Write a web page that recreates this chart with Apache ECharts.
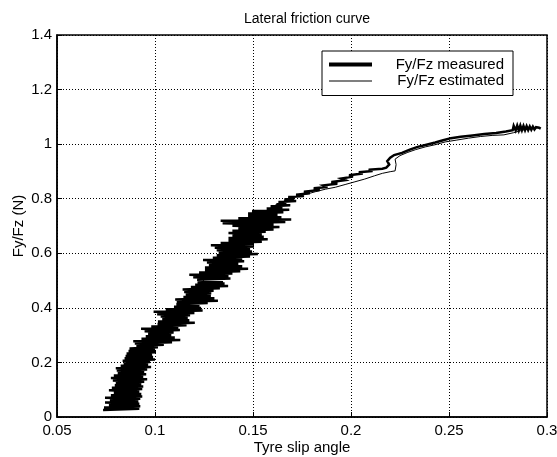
<!DOCTYPE html>
<html>
<head>
<meta charset="utf-8">
<script src="https://cdn.jsdelivr.net/npm/echarts@6/dist/echarts.min.js"></script>
<style>
  html, body { margin: 0; padding: 0; background: #fff; }
  #chart { width: 557px; height: 457px; }
</style>
</head>
<body>
<div id="chart"></div>
<script>
// Labels
const titleText = 'Lateral friction curve';
const xLabel = 'Tyre slip angle';
const yLabel = 'Fy/Fz (N)';
const seriesNames = ['Fy/Fz measured', 'Fy/Fz estimated'];

// Axis ticks
const xTicks = [0.05, 0.1, 0.15, 0.2, 0.25, 0.3];
const yTicks = [0, 0.2, 0.4, 0.6, 0.8, 1, 1.2, 1.4];

// Measured lateral force ratio vs. slip angle (noisy trace), [slip angle, Fy/Fz]
const measured = [
  [0.0735,0.026],[0.092,0.0305],[0.074,0.035],[0.0925,0.0395],[0.0765,0.044],[0.092,0.0485],
  [0.0745,0.053],[0.0915,0.0575],[0.077,0.062],[0.0925,0.0665],[0.0745,0.071],[0.0935,0.0755],
  [0.0775,0.080],[0.093,0.0845],[0.079,0.089],[0.092,0.0935],[0.0765,0.098],[0.0935,0.1025],
  [0.078,0.107],[0.094,0.1115],[0.0795,0.116],[0.093,0.1205],[0.080,0.125],[0.0945,0.1295],
  [0.0785,0.134],[0.096,0.1385],[0.0775,0.143],[0.094,0.1475],[0.079,0.152],[0.0955,0.1565],
  [0.081,0.161],[0.0945,0.1655],[0.0805,0.170],[0.096,0.1745],[0.080,0.179],[0.098,0.1835],
  [0.0825,0.188],[0.0965,0.1925],[0.084,0.197],[0.0975,0.2015],[0.0835,0.206],[0.100,0.2105],
  [0.0845,0.215],[0.099,0.2195],[0.085,0.224],[0.0985,0.2285],[0.0855,0.233],[0.1005,0.2375],
  [0.0865,0.242],[0.100,0.2465],[0.087,0.251],[0.1015,0.2555],
  [0.0905,0.260],[0.1045,0.2645],[0.0897,0.269],[0.1087,0.2735],[0.0889,0.278],[0.1129,0.2825],
  [0.0931,0.287],[0.1101,0.2915],[0.0953,0.296],[0.1083,0.3005],[0.0965,0.305],[0.1095,0.3095],
  [0.0947,0.314],[0.1127,0.3185],[0.0929,0.323],[0.1119,0.3275],[0.0981,0.332],[0.1161,0.3365],
  [0.1013,0.341],[0.1203,0.3455],[0.1015,0.350],[0.1175,0.3545],[0.1037,0.359],[0.1167,0.3635],
  [0.1029,0.368],[0.1179,0.3725],[0.1011,0.377],[0.1201,0.3815],[0.0993,0.386],[0.1243,0.3905],
  [0.1055,0.395],[0.1235,0.3995],[0.1097,0.404],[0.1227,0.4085],[0.1109,0.413],[0.1269,0.4175],
  [0.1111,0.422],[0.1321,0.4265],[0.1103,0.431],[0.1303,0.4355],[0.1145,0.440],[0.1285,0.4445],
  [0.1157,0.449],[0.1287,0.4535],[0.1149,0.458],[0.1299,0.4625],[0.1141,0.467],[0.1331,0.4715],
  [0.1183,0.476],[0.1373,0.4805],[0.1205,0.485],[0.1355,0.4895],[0.1217,0.494],[0.1347,0.4985],
  [0.1215,0.503],[0.1385,0.5075],[0.1195,0.512],[0.1375,0.5165],[0.1175,0.521],[0.1395,0.5255],
  [0.1225,0.530],[0.1435,0.5345],[0.1255,0.539],[0.1475,0.5435],[0.1255,0.548],[0.1445,0.5525],
  [0.1275,0.557],[0.1425,0.5615],[0.1265,0.566],[0.1455,0.5705],[0.1245,0.575],[0.1445,0.5795],
  [0.1295,0.584],[0.1485,0.5885],[0.1315,0.593],[0.1525,0.5975],[0.1325,0.602],[0.1495,0.6065],
  [0.1315,0.611],[0.1485,0.6155],[0.1305,0.620],[0.1505,0.6245],[0.1285,0.629],[0.1505,0.6335],
  [0.1335,0.638],[0.1545,0.6425],[0.1375,0.647],[0.1575,0.6515],[0.1375,0.656],[0.1555,0.6605],
  [0.1395,0.665],[0.1545,0.6695],[0.1375,0.674],[0.1565,0.6785],[0.1395,0.683],[0.1605,0.6875],
  [0.1425,0.692],[0.1635,0.6965],[0.1395,0.701],[0.1605,0.7055],[0.1345,0.710],[0.1665,0.7145],
  [0.1335,0.719],[0.1695,0.7235],[0.1425,0.728],[0.1645,0.7325],[0.1475,0.737],[0.1625,0.7415],
  [0.1475,0.746],[0.1655,0.7505],[0.1495,0.755],[0.1685,0.7595],
  [0.157,0.764],[0.165,0.768],[0.159,0.772],[0.169,0.776],[0.162,0.780],[0.167,0.784],
  [0.163,0.788],[0.172,0.792],[0.166,0.797],[0.171,0.801],[0.168,0.806],[0.176,0.810],
  [0.172,0.815],[0.179,0.820],[0.176,0.826],[0.184,0.832],[0.181,0.838],[0.188,0.843],
  [0.186,0.849],[0.193,0.855],[0.190,0.861],[0.197,0.868],[0.195,0.874],[0.201,0.881],
  [0.199,0.886],[0.206,0.892],[0.204,0.897],[0.211,0.902],[0.209,0.906],[0.216,0.910],
  [0.218,0.914],[0.2195,0.925],[0.2185,0.938],[0.220,0.950],[0.222,0.960],[0.226,0.968],
  [0.230,0.980],[0.234,0.990],[0.238,0.997],[0.243,1.006],[0.247,1.014],[0.251,1.022],
  [0.256,1.027],[0.262,1.032],[0.268,1.037],[0.274,1.041],[0.279,1.046],[0.2825,1.051],
  [0.283,1.067],[0.284,1.050],[0.2848,1.068],[0.2856,1.050],[0.2864,1.068],[0.2872,1.051],
  [0.288,1.067],[0.2888,1.051],[0.2896,1.066],[0.2904,1.052],[0.2912,1.065],[0.292,1.053],
  [0.2928,1.064],[0.2936,1.054],[0.2944,1.062],[0.2952,1.055],[0.296,1.060],[0.2968,1.057]
];

// Estimated lateral force ratio vs. slip angle, [slip angle, Fy/Fz]
const estimated = [
  [0.084,0.030],[0.083,0.060],[0.085,0.090],[0.084,0.120],[0.087,0.150],[0.089,0.180],[0.091,0.210],[0.094,0.240],
  [0.097,0.270],[0.101,0.300],[0.105,0.330],[0.108,0.360],[0.111,0.390],[0.115,0.420],[0.118,0.450],[0.122,0.480],
  [0.126,0.510],[0.130,0.540],[0.133,0.570],[0.137,0.600],[0.140,0.630],[0.144,0.660],[0.147,0.690],[0.151,0.720],
  [0.156,0.750],[0.161,0.775],[0.167,0.795],[0.172,0.808],[0.178,0.818],[0.182,0.826],[0.187,0.835],[0.192,0.842],
  [0.197,0.852],[0.202,0.862],[0.207,0.872],[0.212,0.884],[0.216,0.893],[0.220,0.899],[0.2225,0.902],[0.223,0.925],
  [0.2225,0.945],[0.225,0.958],[0.229,0.970],[0.233,0.980],[0.238,0.990],[0.243,0.998],[0.248,1.008],[0.254,1.015],
  [0.260,1.022],[0.266,1.028],[0.272,1.032],[0.278,1.034],[0.283,1.042],[0.288,1.052],[0.292,1.058]
];

const FONT = "'Liberation Sans', Arial, Helvetica, sans-serif";
const chart = echarts.init(document.getElementById('chart'), null, { renderer: 'canvas' });

const dotted = { type: [1, 2], color: '#000', width: 1 };

chart.setOption({
  animation: false,
  backgroundColor: '#fff',
  textStyle: { fontFamily: FONT, color: '#000' },
  title: {
    text: titleText,
    left: 302, top: 7,
    textAlign: 'center',
    textStyle: { fontFamily: FONT, fontSize: 14, fontWeight: 'normal', color: '#000' }
  },
  grid: {
    left: 57, right: 10, top: 35, bottom: 40,
    outerBoundsMode: 'none',
    show: true, borderColor: '#000', borderWidth: 1.5, backgroundColor: '#fff'
  },
  legend: {
    orient: 'vertical',
    left: 322, top: 51,
    padding: [6, 9, 7, 7],
    itemWidth: 43, itemHeight: 14, itemGap: 1.5,
    borderColor: '#000', borderWidth: 1, backgroundColor: '#fff',
    data: [
      { name: seriesNames[0], icon: 'path://M0,0H43V4H0Z' },
      { name: seriesNames[1], icon: 'path://M0,0H43V1H0Z' }
    ],
    formatter: name => '{n|' + name + '}',
    textStyle: {
      fontFamily: FONT, fontSize: 15, color: '#000',
      rich: { n: { width: 127, align: 'right', fontFamily: FONT, fontSize: 15, color: '#000' } }
    }
  },
  xAxis: {
    type: 'value',
    min: xTicks[0], max: xTicks[xTicks.length - 1], interval: 0.05,
    name: xLabel, nameLocation: 'middle', nameGap: 23, nameMoveOverlap: false,
    nameTextStyle: { fontFamily: FONT, fontSize: 15, color: '#000' },
    axisLine: { show: true, onZero: false, lineStyle: { color: '#000', width: 1.5 } },
    axisTick: { show: true, inside: true, length: 5, lineStyle: { color: '#000' } },
    axisLabel: { fontFamily: FONT, fontSize: 15, color: '#000', margin: 6 },
    splitLine: { show: true, lineStyle: dotted }
  },
  yAxis: {
    type: 'value',
    min: yTicks[0], max: yTicks[yTicks.length - 1], interval: 0.2,
    name: yLabel, nameLocation: 'middle', nameGap: 31, nameMoveOverlap: false,
    nameTextStyle: { fontFamily: FONT, fontSize: 15, color: '#000' },
    axisLine: { show: true, lineStyle: { color: '#000', width: 1.5 } },
    axisTick: { show: true, inside: true, length: 5, lineStyle: { color: '#000' } },
    axisLabel: { fontFamily: FONT, fontSize: 15, color: '#000', margin: 5 },
    splitLine: { show: true, lineStyle: dotted }
  },
  series: [
    {
      name: seriesNames[0], type: 'line', data: measured,
      symbol: 'none', smooth: false, clip: true, z: 3,
      lineStyle: { color: '#000', width: 2.5, join: 'miter', miterLimit: 4 },
      itemStyle: { color: '#000' }
    },
    {
      name: seriesNames[1], type: 'line', data: estimated,
      symbol: 'none', smooth: false, clip: true, z: 2,
      lineStyle: { color: '#000', width: 1 }, itemStyle: { color: '#000' }
    }
  ]
});
</script>
</body>
</html>
